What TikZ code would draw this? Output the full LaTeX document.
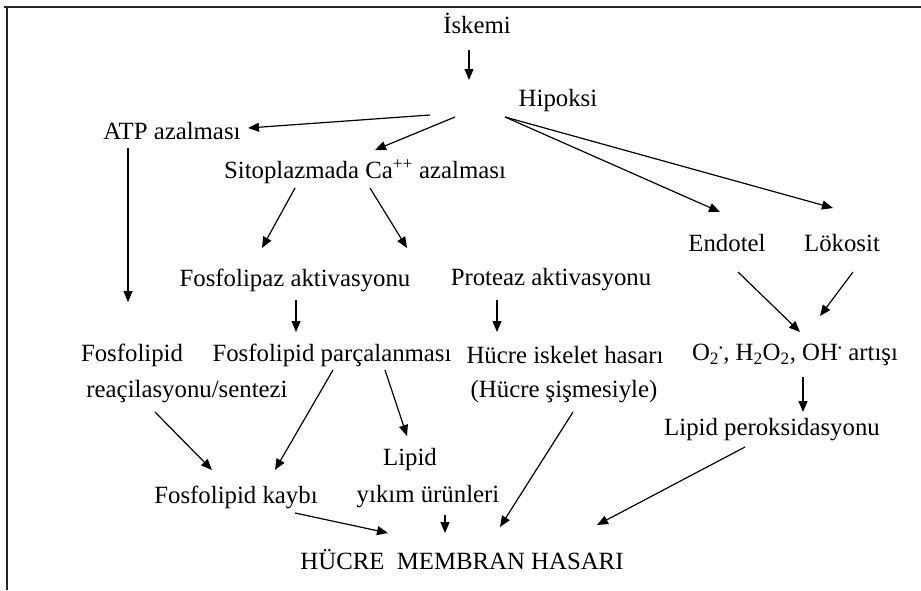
\documentclass[tikz,border=0pt]{standalone}
\usepackage{fontspec}
\setmainfont{Liberation Serif}
\usetikzlibrary{arrows.meta,calc}
\tikzset{
  lbl/.style={inner sep=0pt, font=\fontsize{24.8}{30}\selectfont},
  arr/.style={line width=1.2pt, -{Triangle[length=11pt,width=9pt]}},
  frame/.style={line width=2pt, color=black!85}
}
\newcommand{\raddot}{\textsuperscript{\scalebox{0.6}{•}}}
\begin{document}
\begin{tikzpicture}[x=1pt,y=-1pt]
\useasboundingbox (0,0) rectangle (921,590);
\draw[frame] (4,7) -- (921,7);
\draw[frame] (7,7) -- (7,590);
% nodes
\node[lbl] (isk) at (477,23) {İskemi};
\node[lbl] (hip) at (558,101) {Hipoksi};
\node[lbl] (atp) at (172,131) {ATP azalması};
\node[lbl] (sito) at (365,172) {Sitoplazmada Ca\textsuperscript{++} azalması};
\node[lbl] (fosak) at (295,280) {Fosfolipaz aktivasyonu};
\node[lbl] (prot) at (551,280) {Proteaz aktivasyonu};
\node[lbl] (endo) at (727,243) {Endotel};
\node[lbl] (loko) at (842,243) {Lökosit};
\node[lbl] (fos1) at (132,355) {Fosfolipid};
\node[lbl] (reac) at (187,392) {reaçilasyonu/sentezi};
\node[lbl] (parc) at (332,355) {Fosfolipid parçalanması};
\node[lbl] (hucre) at (565,355) {Hücre iskelet hasarı};
\node[lbl] (sism) at (564,392) {(Hücre şişmesiyle)};
\node[lbl] (oxy) at (795,355) {O\textsubscript{2}\raddot, H\textsubscript{2}O\textsubscript{2}, OH\raddot{} artışı};
\node[lbl] (lpo) at (772,430) {Lipid peroksidasyonu};
\node[lbl] (lipid) at (410,460) {Lipid};
\node[lbl] (yikim) at (428,497) {yıkım ürünleri};
\node[lbl] (kayb) at (236,497) {Fosfolipid kaybı};
\node[lbl] (mem) at (462,560) {HÜCRE\ \ MEMBRAN HASARI};
% connectors
\draw[arr] ($(isk)+(-8,27)$) -- ($(hip)+(-89,-21)$);
\draw[arr] ($(hip)+(-128,14)$) -- ($(atp)+(76,-3)$);
\draw[arr] ($(hip)+(-103,16)$) -- ($(sito)+(10,-22)$);
\draw[arr] ($(hip)+(-53,16)$) -- ($(endo)+(-7,-31)$);
\draw[arr] ($(hip)+(-53,16)$) -- ($(loko)+(-9,-35)$);
\draw[arr] ($(atp)+(-44,17)$) -- ($(fos1)+(-4,-53)$);
\draw[arr] ($(sito)+(-70,16)$) -- ($(fosak)+(-33,-32)$);
\draw[arr] ($(sito)+(5,16)$) -- ($(prot)+(-144,-32)$);
\draw[arr] ($(fosak)+(1,20)$) -- ($(parc)+(-36,-23)$);
\draw[arr] ($(prot)+(-54,20)$) -- ($(hucre)+(-68,-23)$);
\draw[arr] ($(endo)+(11,29)$) -- ($(oxy)+(5,-23)$);
\draw[arr] ($(loko)+(11,29)$) -- ($(oxy)+(25,-39)$);
\draw[arr] ($(oxy)+(8,22)$) -- ($(lpo)+(31,-18)$);
\draw[arr] ($(reac)+(-32,20)$) -- ($(kayb)+(-24,-27)$);
\draw[arr] ($(parc)+(1,15)$) -- ($(kayb)+(39,-27)$);
\draw[arr] ($(parc)+(53,15)$) -- ($(lipid)+(-3,-24)$);
\draw[arr] ($(sism)+(9,20)$) -- ($(mem)+(38,-33)$);
\draw[arr] ($(lpo)+(-27,17)$) -- ($(mem)+(135,-35)$);
\draw[arr] ($(kayb)+(59,16)$) -- ($(mem)+(-74,-27)$);
\draw[arr] ($(yikim)+(17,18)$) -- ($(mem)+(-17,-27)$);
\end{tikzpicture}
\end{document}
